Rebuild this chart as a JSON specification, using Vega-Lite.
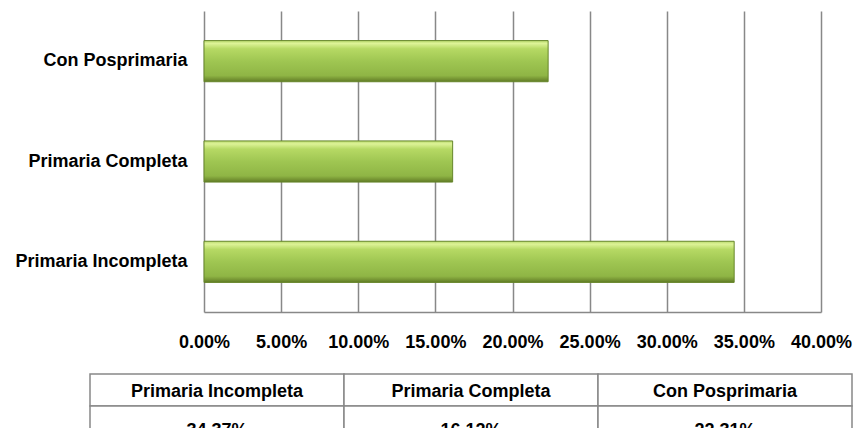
{
  "$schema": "https://vega.github.io/schema/vega-lite/v6.json",
  "background": "white",
  "padding": {"left": 11, "top": 11, "right": 0, "bottom": 0},
  "spacing": 21,
  "config": {"view": {"stroke": null}, "font": "Liberation Sans"},
  "datasets": {
    "rows": [
      {"cat": "Primaria Incompleta", "value": 0.3437},
      {"cat": "Primaria Completa", "value": 0.1612},
      {"cat": "Con Posprimaria", "value": 0.2231}
    ]
  },
  "vconcat": [
    {
      "width": 617,
      "height": 301,
      "data": {"name": "rows"},
      "mark": {
        "type": "bar",
        "stroke": "#66862a",
        "strokeWidth": 1,
        "fill": {
          "gradient": "linear", "x1": 0, "y1": 0, "x2": 0, "y2": 1,
          "stops": [
            {"offset": 0, "color": "#b9d96c"},
            {"offset": 0.07, "color": "#ddf397"},
            {"offset": 0.2, "color": "#b6d964"},
            {"offset": 0.5, "color": "#9fc652"},
            {"offset": 0.85, "color": "#8fb545"},
            {"offset": 0.95, "color": "#718f30"},
            {"offset": 1, "color": "#5e7a26"}
          ]
        }
      },
      "encoding": {
        "y": {
          "field": "cat", "type": "nominal",
          "sort": ["Con Posprimaria", "Primaria Completa", "Primaria Incompleta"],
          "scale": {"paddingInner": 0.59, "paddingOuter": 0.295},
          "axis": {
            "title": null, "labelFontSize": 18, "labelFontWeight": "bold", "labelColor": "#000",
            "labelPadding": 17, "ticks": false, "domain": false, "grid": false,
            "minExtent": 193, "maxExtent": 193, "labelLimit": 300
          }
        },
        "x": {
          "field": "value", "type": "quantitative",
          "scale": {"domain": [0, 0.4], "nice": false},
          "axis": {
            "title": null, "format": ".2%",
            "values": [0, 0.05, 0.1, 0.15, 0.2, 0.25, 0.3, 0.35, 0.4],
            "labelFontSize": 18, "labelFontWeight": "bold", "labelColor": "#000",
            "labelPadding": 21.5, "ticks": false, "labelFlush": false, "labelOverlap": false,
            "domainColor": "#888", "domainWidth": 1.5,
            "grid": true, "gridColor": "#888", "gridWidth": 1.5, "gridOpacity": 1
          }
        }
      }
    },
    {
      "width": 617,
      "height": 64,
      "data": {"name": "rows"},
      "encoding": {
        "x": {
          "field": "cat", "type": "nominal",
          "sort": ["Primaria Incompleta", "Primaria Completa", "Con Posprimaria"],
          "scale": {"range": [-114, 648], "paddingInner": 0, "paddingOuter": 0},
          "axis": null
        }
      },
      "layer": [
        {
          "mark": {"type": "rect", "fill": "white", "stroke": "#888", "strokeWidth": 1.5},
          "encoding": {
            "y": {
              "datum": "h", "type": "nominal",
              "scale": {"domain": ["h", "v"], "paddingInner": 0, "paddingOuter": 0},
              "axis": null
            }
          }
        },
        {
          "mark": {"type": "rect", "fill": "white", "stroke": "#888", "strokeWidth": 1.5},
          "encoding": {"y": {"datum": "v", "type": "nominal"}}
        },
        {
          "mark": {"type": "text", "fontSize": 18, "fontWeight": "bold", "color": "#000", "dy": 2},
          "encoding": {"y": {"datum": "h", "type": "nominal"}, "text": {"field": "cat"}}
        },
        {
          "mark": {"type": "text", "fontSize": 18, "fontWeight": "bold", "color": "#000", "dy": 9},
          "encoding": {"y": {"datum": "v", "type": "nominal"}, "text": {"field": "value", "format": ".2%"}}
        }
      ]
    }
  ]
}
